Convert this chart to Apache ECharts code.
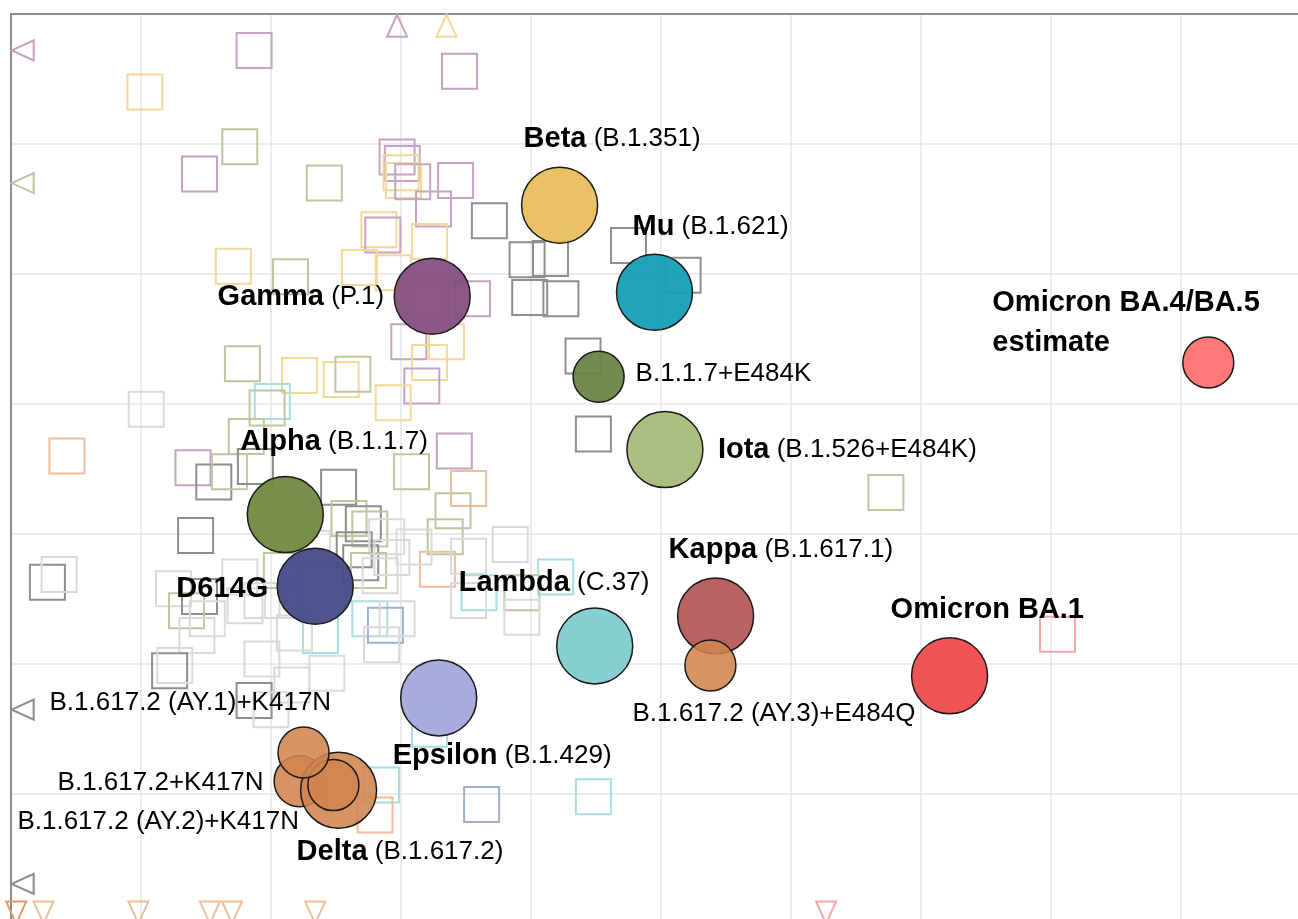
<!DOCTYPE html>
<html>
<head>
<meta charset="utf-8">
<script src="https://cdn.jsdelivr.net/npm/echarts@6/dist/echarts.min.js"></script>
<style>
html, body { margin: 0; padding: 0; background: #fff; }
#map { width: 1298px; height: 919px; }
</style>
</head>
<body>
<div id="map"></div>
<script>
// antigens, in map units (1 unit = one grid square, y grows downward)
const antigenNames = ['Beta', 'Mu', 'Gamma', 'B.1.1.7+E484K', 'Iota', 'Alpha', 'D614G', 'Lambda', 'Kappa',
  'B.1.617.2 (AY.3)+E484Q', 'Epsilon', 'Omicron BA.1', 'Omicron BA.4/BA.5', 'B.1.617.2+K417N', 'Delta',
  'B.1.617.2 (AY.2)+K417N', 'B.1.617.2 (AY.1)+K417N'];
const antigenLineage = ['(B.1.351)', '(B.1.621)', '(P.1)', '', '(B.1.526+E484K)', '(B.1.1.7)', '', '(C.37)', '(B.1.617.1)',
  '', '(B.1.429)', '', 'estimate', '', '(B.1.617.2)', '', ''];
const antigenX = [4.22, 4.95, 3.24, 4.52, 5.03, 2.11, 2.34, 4.49, 5.42, 5.38, 3.29, 7.22, 9.21, 2.22, 2.52, 2.48, 2.25];
const antigenY = [1.47, 2.14, 2.17, 2.79, 3.35, 3.85, 4.40, 4.86, 4.63, 5.01, 5.26, 5.09, 2.68, 5.90, 5.97, 5.93, 5.68];

// sera (open squares)
const seraX = [1.87, 1.03, 3.45, 1.76, 1.45, 2.41, 2.97, 3.01, 3.00, 3.02, 3.09, 3.42, 3.25, 3.68, 2.83, 2.86, 3.22,
  1.71, 2.15, 2.68, 2.94, 3.55, 3.23, 3.97, 4.15, 3.99, 4.23, 4.75, 5.17, 3.06, 3.35, 3.22, 3.16, 2.94, 1.78, 2.22,
  2.54, 2.63, 2.01, 1.97, 1.04, 4.40, 4.48, 1.81, 0.43, 1.40, 1.56, 1.68, 1.88, 2.52, 3.08, 3.41, 3.52, 3.40, 3.34,
  3.84, 3.28, 3.52, 1.42, 0.28, 0.37, 4.19, 3.60, 3.93, 3.93, 3.52, 6.73, 8.05, 2.60, 2.71, 2.76, 2.64, 2.69, 2.89,
  3.10, 2.75, 2.93, 2.84, 2.22, 2.32, 1.25, 1.45, 1.35, 1.76, 1.80, 2.08, 1.43, 1.51, 1.93, 2.09, 2.18, 2.76, 2.88,
  2.97, 2.85, 2.38, 1.22, 1.26, 1.93, 2.43, 2.16, 1.87, 2.00, 3.22, 2.85, 2.80, 3.62, 4.48];
const seraY = [0.28, 0.60, 0.44, 1.02, 1.23, 1.30, 1.10, 1.15, 1.22, 1.28, 1.29, 1.28, 1.50, 1.59, 1.66, 1.70, 1.75,
  1.94, 2.02, 1.95, 1.99, 2.19, 2.22, 1.89, 1.88, 2.18, 2.19, 1.78, 2.01, 2.52, 2.52, 2.68, 2.86, 2.99, 2.69, 2.78,
  2.81, 2.77, 2.98, 3.03, 3.04, 2.63, 3.23, 3.25, 3.40, 3.49, 3.60, 3.52, 3.48, 3.64, 3.52, 3.36, 3.65, 3.82, 4.02,
  4.08, 4.27, 4.17, 4.01, 4.37, 4.31, 4.33, 4.45, 4.45, 4.64, 4.51, 3.68, 4.77, 3.88, 3.92, 3.96, 4.12, 4.22, 4.02,
  4.10, 4.28, 4.18, 4.32, 3.89, 4.11, 4.42, 4.48, 4.59, 4.33, 4.55, 4.28, 4.78, 4.65, 4.51, 4.51, 4.76, 4.65, 4.70,
  4.65, 4.85, 4.78, 5.05, 5.01, 4.96, 5.07, 5.16, 5.28, 5.35, 5.50, 5.93, 6.16, 6.08, 6.02];
const seraGroup = ['P', 'Y', 'P', 'G', 'P', 'G', 'P', 'P', 'Y', 'Y', 'P', 'P', 'P', 'D', 'Y', 'P', 'Y',
  'Y', 'G', 'Y', 'Y', 'P', 'P', 'D', 'D', 'D', 'D', 'D', 'D', 'P', 'Y', 'Y', 'P', 'Y', 'G', 'Y',
  'Y', 'G', 'C', 'G', 'L', 'D', 'D', 'G', 'O', 'P', 'D', 'G', 'D', 'D', 'G', 'P', 'O', 'G', 'G',
  'L', 'O', 'L', 'D', 'D', 'L', 'C', 'C', 'G', 'L', 'L', 'G', 'K', 'G', 'D', 'G', 'D', 'D', 'L',
  'L', 'G', 'L', 'L', 'L', 'L', 'L', 'D', 'G', 'L', 'L', 'G', 'L', 'L', 'L', 'L', 'L', 'C', 'B',
  'L', 'L', 'C', 'D', 'L', 'L', 'L', 'L', 'D', 'L', 'C', 'C', 'O', 'B', 'C'];

// sera that fall outside the plotted area, drawn as arrows at the edge
const edgeX = [0.09, 0.09, 0.09, 0.09, 2.97, 3.35, 0.04, 0.25, 0.98, 1.53, 1.70, 2.34, 6.27];
const edgeY = [0.28, 1.30, 5.35, 6.69, 0.09, 0.09, 6.91, 6.91, 6.91, 6.91, 6.91, 6.91, 6.91];
const edgeDir = ['left', 'left', 'left', 'left', 'up', 'up', 'down', 'down', 'down', 'down', 'down', 'down', 'down'];
const edgeGroup = ['P', 'G', 'D', 'D', 'P', 'Y', 'O2', 'O', 'O', 'O', 'O', 'O', 'K'];

const seraColors = {
  P: '#c6a2c4', Y: '#f3d897', G: '#bac8a1', D: '#8e8e8e', L: '#dadada',
  C: '#a6dfe0', O: '#eebd9b', O2: '#e39a68', B: '#9fb0cb', K: '#f6a6a6'
};

const orange = '#d2844e';
const antigenStyle = {
  'Beta': { color: '#e8bf5e', big: true, bold: true, align: 'left', dx: -36, dy: -66 },
  'Mu': { color: '#169fb4', big: true, bold: true, align: 'left', dx: -22, dy: -65 },
  'Gamma': { color: '#854f80', big: true, bold: true, align: 'right', dx: -48, dy: 1 },
  'B.1.1.7+E484K': { color: '#6c8445', big: false, bold: false, align: 'left', dx: 37, dy: -3 },
  'Iota': { color: '#a4bb78', big: true, bold: true, align: 'left', dx: 53, dy: 0 },
  'Alpha': { color: '#72883f', big: true, bold: true, align: 'left', dx: -45, dy: -73 },
  'D614G': { color: '#474b88', big: true, bold: true, align: 'right', dx: -47, dy: 3 },
  'Lambda': { color: '#80cfcc', big: true, bold: true, align: 'left', dx: -136, dy: -63 },
  'Kappa': { color: '#b55a5a', big: true, bold: true, align: 'left', dx: -47, dy: -66 },
  'B.1.617.2 (AY.3)+E484Q': { color: orange, big: false, bold: false, align: 'left', dx: -78, dy: 48 },
  'Epsilon': { color: '#a2a6db', big: true, bold: true, align: 'left', dx: -46, dy: 58 },
  'Omicron BA.1': { color: '#ef4a4a', big: true, bold: true, align: 'left', dx: -59, dy: -66 },
  'Omicron BA.4/BA.5': { color: '#ff7070', big: false, bold: true, align: 'left', dx: -216, dy: -39, twoLines: true },
  'B.1.617.2+K417N': { color: orange, big: false, bold: false, align: 'left', dx: -242, dy: 2 },
  'Delta': { color: orange, big: true, bold: true, align: 'left', dx: -42, dy: 62 },
  'B.1.617.2 (AY.2)+K417N': { color: orange, big: false, bold: false, align: 'left', dx: -316, dy: 37 },
  'B.1.617.2 (AY.1)+K417N': { color: orange, big: false, bold: false, align: 'left', dx: -254, dy: -50 }
};

function withAlpha(hex, a) {
  const n = parseInt(hex.slice(1), 16);
  return 'rgba(' + (n >> 16) + ',' + ((n >> 8) & 255) + ',' + (n & 255) + ',' + a + ')';
}

function labelText(name, i) {
  const s = antigenStyle[name];
  const extra = antigenLineage[i];
  if (s.twoLines) return '{b|' + name + '}\n{b|' + extra + '}';
  if (!s.bold) return '{r|' + name + '}';
  return '{b|' + name + '}' + (extra ? '{r| ' + extra + '}' : '');
}

const font = '"Liberation Sans", Arial, Helvetica, sans-serif';

const seraData = seraX.map((x, i) => ({
  value: [x, seraY[i]],
  itemStyle: { color: 'rgba(0,0,0,0)', borderColor: seraColors[seraGroup[i]], borderWidth: 2, opacity: 1 }
}));

const rotations = { left: 90, up: 0, down: 180 };
const edgeData = edgeX.map((x, i) => ({
  value: [x, edgeY[i]],
  symbolRotate: rotations[edgeDir[i]],
  itemStyle: { color: 'rgba(0,0,0,0)', borderColor: seraColors[edgeGroup[i]], borderWidth: 2, opacity: 1 }
}));

const antigenData = antigenNames.map((name, i) => {
  const s = antigenStyle[name];
  return {
    name: name,
    value: [antigenX[i], antigenY[i]],
    symbolSize: s.big ? 76 : 51,
    itemStyle: {
      color: withAlpha(s.color, s.color === orange ? 0.88 : 0.95),
      borderColor: '#1a1a1a',
      borderWidth: 1.5,
      opacity: 1
    }
  };
});

const labelData = antigenNames.map((name, i) => {
  const s = antigenStyle[name];
  return {
    name: name,
    value: [antigenX[i], antigenY[i]],
    label: {
      show: true,
      position: 'inside',
      align: s.align,
      verticalAlign: 'middle',
      offset: [s.dx, s.dy],
      formatter: labelText(name, i),
      lineHeight: 40
    }
  };
});

const chart = echarts.init(document.getElementById('map'));
chart.setOption({
  backgroundColor: '#fff',
  animation: false,
  grid: { left: 11, top: 14, right: 0, bottom: 0 },
  xAxis: {
    type: 'value', min: 0, max: 9.9, interval: 1, position: 'top',
    axisLine: { show: true, onZero: false, lineStyle: { color: '#8c8c8c', width: 2 } },
    axisTick: { show: false }, axisLabel: { show: false },
    splitLine: { show: true, showMaxLine: false, lineStyle: { color: '#e6e6e6', width: 1.5 } }
  },
  yAxis: {
    type: 'value', min: 0, max: 6.96, interval: 1, inverse: true,
    axisLine: { show: true, onZero: false, lineStyle: { color: '#8c8c8c', width: 2 } },
    axisTick: { show: false }, axisLabel: { show: false },
    splitLine: { show: true, showMaxLine: false, lineStyle: { color: '#e6e6e6', width: 1.5 } }
  },
  series: [
    {
      type: 'scatter', silent: true, z: 2, symbol: 'rect', symbolSize: 35,
      data: seraData
    },
    {
      type: 'scatter', silent: true, z: 2, symbol: 'triangle', symbolSize: [20, 22],
      data: edgeData
    },
    {
      type: 'scatter', silent: true, z: 3, symbol: 'circle',
      data: antigenData
    },
    {
      type: 'scatter', silent: true, z: 4, symbol: 'circle', symbolSize: 1,
      itemStyle: { color: 'rgba(0,0,0,0)', opacity: 1 },
      label: {
        color: '#000',
        opacity: 1,
        rich: {
          b: { fontFamily: font, fontWeight: 'bold', fontSize: 29, color: '#000' },
          r: { fontFamily: font, fontSize: 26, color: '#000' }
        }
      },
      data: labelData
    }
  ]
});
</script>
</body>
</html>
